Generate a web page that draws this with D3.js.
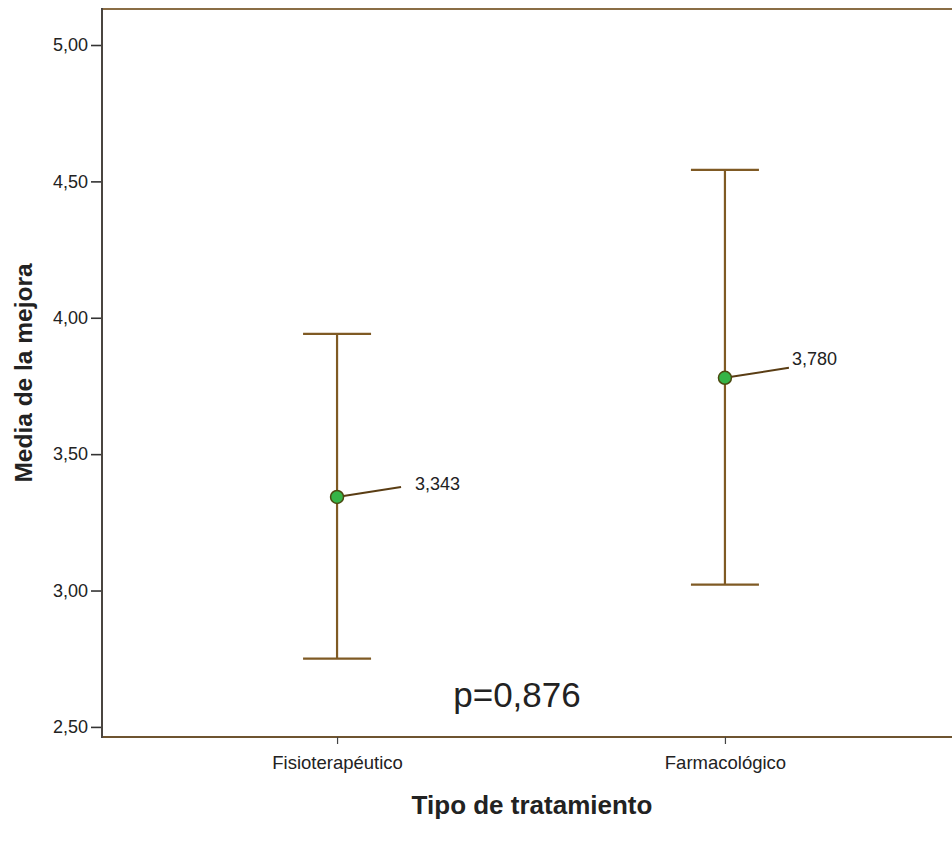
<!DOCTYPE html>
<html lang="es">
<head>
    <meta charset="utf-8">
    <title>Media de la mejora</title>
    <script src="https://d3js.org/d3.v7.min.js" charset="utf-8"></script>
    <style type="text/css">
        body { margin: 0; background: #fff; }
        text { font-family: "Liberation Sans", Arial, sans-serif; fill: #222; }
    </style>
</head>
<body>
    <script type="text/javascript">
    // data
    var categories = ["Fisioterapéutico", "Farmacológico"];
    var means = [3.343, 3.780];
    var upper = [3.941, 4.542];
    var lower = [2.750, 3.022];
    var yTicks = [2.5, 3.0, 3.5, 4.0, 4.5, 5.0];
    var pLabel = "p=0,876";

    var width = 952, height = 845;
    var plotLeft = 102, plotTop = 9, plotBottom = 737, plotRight = 960;

    var svg = d3.select("body").append("svg")
        .attr("width", width)
        .attr("height", height);

    var fmt = function (v) { return d3.format(".2f")(v).replace(".", ","); };

    var y = d3.scaleLinear()
        .domain([2.463, 5.132])
        .range([plotBottom, plotTop]);

    var x = d3.scalePoint()
        .domain(categories)
        .range([plotLeft, plotRight])
        .padding(0.606);

    var brown = "#7f5a24";

    // frame
    svg.append("line")
        .attr("x1", plotLeft).attr("x2", width)
        .attr("y1", plotTop).attr("y2", plotTop)
        .attr("stroke", "#8a6d45").attr("stroke-width", 2);
    svg.append("line")
        .attr("x1", plotLeft).attr("x2", width)
        .attr("y1", plotBottom).attr("y2", plotBottom)
        .attr("stroke", "#6e5430").attr("stroke-width", 2);

    // y axis
    var yAxis = svg.append("g")
        .attr("transform", "translate(" + plotLeft + ",0)")
        .call(d3.axisLeft(y).tickValues(yTicks).tickFormat(fmt).tickSize(11).tickPadding(3));
    yAxis.select(".domain").remove();
    yAxis.selectAll(".tick line").attr("stroke", "#333").attr("stroke-width", 1.6);
    yAxis.selectAll("text").attr("font-size", "18px").attr("fill", "#333");
    svg.append("line")
        .attr("x1", plotLeft).attr("x2", plotLeft)
        .attr("y1", plotTop - 1).attr("y2", plotBottom + 1)
        .attr("stroke", "#4a4540").attr("stroke-width", 2);

    // x axis
    var xAxis = svg.append("g")
        .attr("transform", "translate(0," + plotBottom + ")")
        .call(d3.axisBottom(x).tickSize(7).tickPadding(12));
    xAxis.select(".domain").remove();
    xAxis.selectAll(".tick line").attr("stroke", "#444").attr("stroke-width", 1.2);
    xAxis.selectAll("text").attr("font-size", "18.5px").attr("fill", "#222");

    // axis titles
    svg.append("text")
        .attr("x", 532).attr("y", 814)
        .attr("text-anchor", "middle")
        .attr("font-size", "26px")
        .attr("font-weight", "bold")
        .text("Tipo de tratamiento");
    svg.append("text")
        .attr("transform", "translate(32," + ((plotTop + plotBottom) / 2) + ") rotate(-90)")
        .attr("text-anchor", "middle")
        .attr("font-size", "24.5px")
        .attr("font-weight", "bold")
        .text("Media de la mejora");

    var rows = categories.map(function (c, i) {
        return { cat: c, mean: means[i], hi: upper[i], lo: lower[i] };
    });

    var g = svg.selectAll(".err").data(rows).enter().append("g").attr("class", "err");

    // whiskers
    g.append("line")
        .attr("x1", function (d) { return x(d.cat); })
        .attr("x2", function (d) { return x(d.cat); })
        .attr("y1", function (d) { return y(d.hi); })
        .attr("y2", function (d) { return y(d.lo); })
        .attr("stroke", brown).attr("stroke-width", 2.2);
    g.selectAll(".cap").data(function (d) { return [[d.cat, d.hi], [d.cat, d.lo]]; })
        .enter().append("line")
        .attr("class", "cap")
        .attr("x1", function (d) { return x(d[0]) - 34; })
        .attr("x2", function (d) { return x(d[0]) + 34; })
        .attr("y1", function (d) { return y(d[1]); })
        .attr("y2", function (d) { return y(d[1]); })
        .attr("stroke", brown).attr("stroke-width", 2.2);

    // label leaders
    g.append("line")
        .attr("x1", function (d) { return x(d.cat); })
        .attr("y1", function (d) { return y(d.mean); })
        .attr("x2", function (d) { return x(d.cat) + 64; })
        .attr("y2", function (d) { return y(d.mean) - 10; })
        .attr("stroke", "#5a3d14").attr("stroke-width", 2);

    g.append("circle")
        .attr("cx", function (d) { return x(d.cat); })
        .attr("cy", function (d) { return y(d.mean); })
        .attr("r", 6.5)
        .attr("fill", "#35b447")
        .attr("stroke", "#4a4a10").attr("stroke-width", 1.5);

    g.append("text")
        .attr("x", function (d, i) { return x(d.cat) + (i === 0 ? 78 : 67); })
        .attr("y", function (d, i) { return y(d.mean) + (i === 0 ? -7 : -13); })
        .attr("font-size", "18px")
        .attr("fill", "#333")
        .text(function (d) { return d3.format(".3f")(d.mean).replace(".", ","); });

    svg.append("text")
        .attr("x", 517).attr("y", 707)
        .attr("text-anchor", "middle")
        .attr("font-size", "35px")
        .attr("fill", "#111")
        .text(pLabel);
    </script>
</body>
</html>
